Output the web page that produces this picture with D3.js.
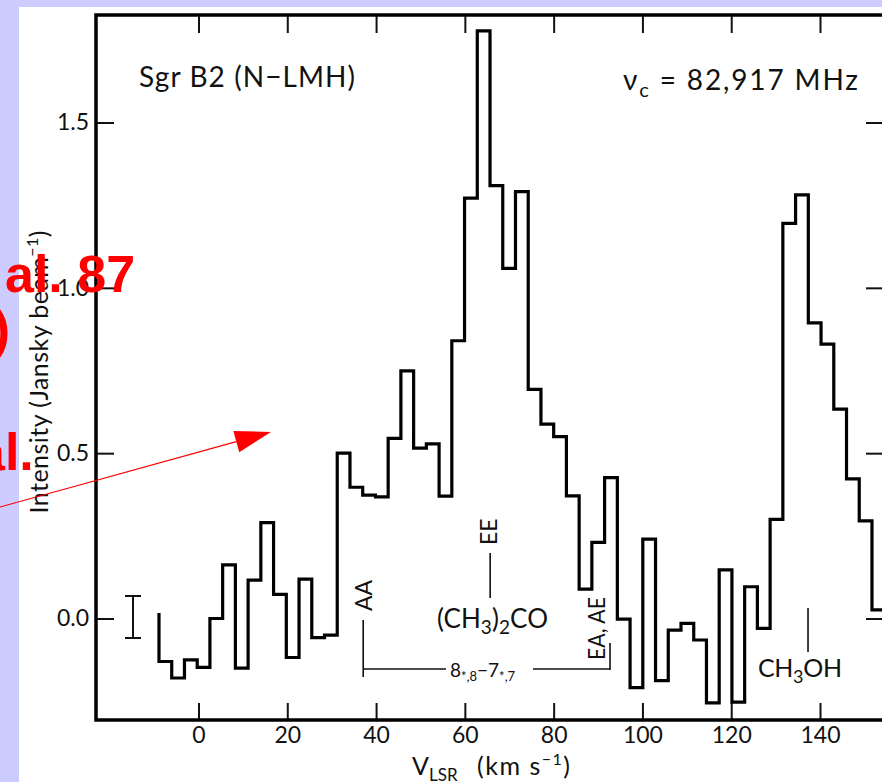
<!DOCTYPE html>
<html><head><meta charset="utf-8">
<script src="https://cdn.jsdelivr.net/npm/d3@7"></script>
<style>html,body{margin:0;padding:0;overflow:hidden;background:#ccccff;} svg{display:block}</style>
</head><body><svg id="c" width="882" height="782"></svg>
<script>
// ---- data ----
const velocityStart = -8.9;      // km/s, left edge of first channel
const channelWidth = 2.868;      // km/s
const leadInIntensity = 0.017;   // level where the trace starts
const intensities = [
  -0.13, -0.18, -0.125, -0.148, 0.0, 0.162, -0.15, 0.116, 0.29, 0.073,
  -0.118, 0.119, -0.058, -0.05, 0.50, 0.397, 0.373, 0.368, 0.545, 0.749,
  0.515, 0.528, 0.37, 0.84, 1.271, 1.777, 1.309, 1.059, 1.291, 0.693,
  0.588, 0.55, 0.371, 0.089, 0.23, 0.426, -0.002, -0.209, 0.24, -0.188,
  -0.035, -0.015, -0.065, -0.255, 0.147, -0.253, 0.096, -0.03, 0.30, 1.195,
  1.281, 0.894, 0.83, 0.633, 0.422, 0.295, 0.026
];
const xTickValues = [0, 20, 40, 60, 80, 100, 120, 140];
const yTickValues = [0.0, 0.5, 1.0, 1.5];
const markerVelocities = { AA: 37.1, EE: 65.7, EAAE: 92.7, CH3OH: 137.3 };

// ---- layout ----
const frame = { left: 96, right: 884, top: 15, bottom: 720 };
const F = "Lato, 'Open Sans', 'DejaVu Sans', sans-serif";
const INK = "#111";

const svg = d3.select("#c");
svg.append("rect").attr("x", 19).attr("y", 7).attr("width", 863).attr("height", 775).attr("fill", "#fff");

const x = d3.scaleLinear().domain([0, 140]).range([198.5, 820]);
const y = d3.scaleLinear().domain([0, 1.5]).range([618.5, 122.5]);

function styleAxis(g, labels) {
  g.select(".domain").remove();
  g.selectAll(".tick line").attr("stroke", INK).attr("stroke-width", 2);
  g.selectAll(".tick text").attr("font-size", 23).attr("font-family", F).attr("fill", INK);
  if (!labels) g.selectAll(".tick text").remove();
}

styleAxis(svg.append("g").attr("transform", `translate(0,${frame.bottom})`)
  .call(d3.axisBottom(x).tickValues(xTickValues).tickSizeInner(-17).tickSizeOuter(0).tickPadding(7).tickFormat(d3.format("d"))), true);
styleAxis(svg.append("g").attr("transform", `translate(0,${frame.top})`)
  .call(d3.axisTop(x).tickValues(xTickValues).tickSizeInner(-18).tickSizeOuter(0)), false);
styleAxis(svg.append("g").attr("transform", `translate(${frame.left},0)`)
  .call(d3.axisLeft(y).tickValues(yTickValues).tickSizeInner(-18).tickSizeOuter(0).tickPadding(7).tickFormat(d3.format(".1f"))), true);
styleAxis(svg.append("g").attr("transform", `translate(${frame.right},0)`)
  .call(d3.axisRight(y).tickValues(yTickValues).tickSizeInner(-18).tickSizeOuter(0)), false);

svg.append("rect").attr("x", frame.left).attr("y", frame.top)
  .attr("width", frame.right - frame.left).attr("height", frame.bottom - frame.top)
  .attr("fill", "none").attr("stroke", "#000").attr("stroke-width", 3.5);

// ---- spectrum ----
const pts = [{ v: velocityStart, i: leadInIntensity }];
intensities.forEach((val, k) => pts.push({ v: velocityStart + k * channelWidth, i: val }));
pts.push({ v: velocityStart + intensities.length * channelWidth, i: intensities[intensities.length - 1] });
svg.append("path").datum(pts)
  .attr("d", d3.line().x(d => x(d.v)).y(d => y(d.i)).curve(d3.curveStepAfter))
  .attr("fill", "none").attr("stroke", "#000").attr("stroke-width", 3.2).attr("stroke-linejoin", "miter");

// ---- error bar ----
const eb = svg.append("g").attr("stroke", INK).attr("stroke-width", 2);
eb.append("line").attr("x1", 133).attr("x2", 133).attr("y1", 596).attr("y2", 638);
eb.append("line").attr("x1", 125).attr("x2", 141).attr("y1", 596).attr("y2", 596);
eb.append("line").attr("x1", 125).attr("x2", 141).attr("y1", 638).attr("y2", 638);

// ---- annotations ----
const ann = svg.append("g").attr("font-family", F).attr("fill", INK);
const lines = svg.append("g").attr("stroke", INK).attr("stroke-width", 1.6);
const xAA = x(markerVelocities.AA), xEE = x(markerVelocities.EE), xEA = x(markerVelocities.EAAE), xCH = x(markerVelocities.CH3OH);

ann.append("text").attr("transform", `translate(${xAA + 9},611) rotate(-90)`).attr("font-size", 24)
  .attr("textLength", 31).attr("lengthAdjust", "spacingAndGlyphs").text("AA");
lines.append("line").attr("x1", xAA).attr("x2", xAA).attr("y1", 620).attr("y2", 677);
lines.append("line").attr("x1", xAA).attr("x2", 446).attr("y1", 669).attr("y2", 669);
lines.append("line").attr("x1", 533).attr("x2", xEA).attr("y1", 669).attr("y2", 669);
lines.append("line").attr("x1", xEA).attr("x2", xEA).attr("y1", 643).attr("y2", 670);

ann.append("text").attr("transform", `translate(${xEA - 5},660) rotate(-90)`).attr("font-size", 23)
  .attr("textLength", 63).attr("lengthAdjust", "spacingAndGlyphs").text("EA, AE");

ann.append("text").attr("transform", `translate(${xEE + 7},545) rotate(-90)`).attr("font-size", 23).text("EE");
lines.append("line").attr("x1", xEE).attr("x2", xEE).attr("y1", 553).attr("y2", 598);

const co = ann.append("text").attr("x", 437).attr("y", 628).attr("font-size", 26)
  .attr("textLength", 111).attr("lengthAdjust", "spacing");
co.append("tspan").text("(CH");
co.append("tspan").attr("font-size", 19).attr("dy", 6).text("3");
co.append("tspan").attr("dy", -6).text(")");
co.append("tspan").attr("font-size", 19).attr("dy", 6).text("2");
co.append("tspan").attr("dy", -6).text("CO");

const qn = ann.append("text").attr("x", 450).attr("y", 677).attr("font-size", 19);
qn.append("tspan").text("8");
qn.append("tspan").attr("font-size", 13).attr("dy", 4).text("*,8");
qn.append("tspan").attr("dy", -4).text("\u22127");
qn.append("tspan").attr("font-size", 13).attr("dy", 4).text("*,7");

lines.append("line").attr("x1", xCH).attr("x2", xCH).attr("y1", 608).attr("y2", 652);
const ch = ann.append("text").attr("x", 758).attr("y", 677).attr("font-size", 25)
  .attr("textLength", 84).attr("lengthAdjust", "spacing");
ch.append("tspan").text("CH");
ch.append("tspan").attr("font-size", 18).attr("dy", 6).text("3");
ch.append("tspan").attr("dy", -6).text("OH");

// titles
ann.append("text").attr("x", 139).attr("y", 87).attr("font-size", 28)
  .attr("textLength", 216).attr("lengthAdjust", "spacing").text("Sgr B2 (N\u2212LMH)");
const nu = ann.append("text").attr("x", 623).attr("y", 90).attr("font-size", 28)
  .attr("textLength", 235).attr("lengthAdjust", "spacing");
nu.append("tspan").text("\u03bd");
nu.append("tspan").attr("font-size", 20).attr("dy", 7).text("c");
nu.append("tspan").attr("dy", -7).text(" = 82,917 MHz");

// axis titles
const yt = ann.append("text").attr("transform", "translate(48,372) rotate(-90)").attr("text-anchor", "middle").attr("font-size", 25)
  .attr("textLength", 283).attr("lengthAdjust", "spacing");
yt.append("tspan").text("Intensity  (Jansky beam");
yt.append("tspan").attr("font-size", 16).attr("dy", -10).text("\u22121");
yt.append("tspan").attr("dy", 10).text(")");

const xt = ann.append("text").attr("x", 412).attr("y", 775).attr("font-size", 25);
xt.append("tspan").text("V");
xt.append("tspan").attr("font-size", 17).attr("dy", 6).text("LSR");
const xt2 = ann.append("text").attr("x", 477).attr("y", 775).attr("font-size", 25)
  .attr("textLength", 93).attr("lengthAdjust", "spacing");
xt2.append("tspan").text("(km s");
xt2.append("tspan").attr("font-size", 16).attr("dy", -10).text("\u22121");
xt2.append("tspan").attr("dy", 10).text(")");

// ---- red overlay ----
const red = svg.append("g").attr("fill", "#ff0000").attr("font-family", "'Liberation Sans', Arial, sans-serif").attr("font-weight", "bold").attr("font-size", 52);
red.append("text").attr("x", 5).attr("y", 292).text("al. 87");
red.append("text").attr("x", 10).attr("y", 347).attr("text-anchor", "end").text(")");
red.append("text").attr("x", -24).attr("y", 470).text("al.");

const tail = [0, 507], tip = [271, 432];
const ang = Math.atan2(tip[1] - tail[1], tip[0] - tail[0]);
const hl = 36, hw = 11;
const base = [tip[0] - hl * Math.cos(ang), tip[1] - hl * Math.sin(ang)];
svg.append("line").attr("x1", tail[0]).attr("y1", tail[1]).attr("x2", base[0]).attr("y2", base[1])
  .attr("stroke", "#ff0000").attr("stroke-width", 1.2);
svg.append("polygon").attr("fill", "#ff0000").attr("points", [
  tip,
  [base[0] + hw * Math.sin(ang), base[1] - hw * Math.cos(ang)],
  [base[0] - hw * Math.sin(ang), base[1] + hw * Math.cos(ang)]
].map(p => p.join(",")).join(" "));
</script></body></html>
